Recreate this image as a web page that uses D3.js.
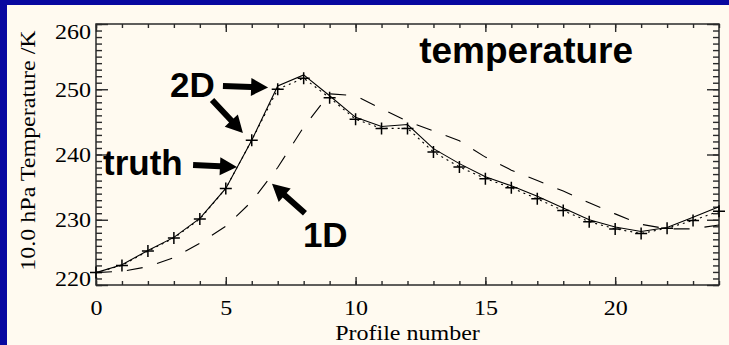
<!DOCTYPE html>
<html>
<head>
<meta charset="utf-8">
<script src="https://cdn.jsdelivr.net/npm/d3@7"></script>
<style>
  body { margin: 0; background: #0808a0; }
  svg { display: block; }
</style>
</head>
<body>
<svg id="chart" width="729" height="345"></svg>
<script>
// profile numbers along the track
const profile = [0, 1, 2, 3, 4, 5, 6, 7, 8, 9, 10, 11, 12, 13, 14, 15, 16, 17, 18, 19, 20, 21, 22, 23, 24];
// 10 hPa temperature (K)
const truth = [221.9, 223.1, 225.3, 227.3, 230.2, 234.8, 242.2, 250.5, 252.2, 249.0, 245.7, 244.3, 244.6,
    240.9, 238.6, 236.6, 235.2, 233.6, 231.8, 230.0, 228.9, 228.2, 228.8, 230.4, 232.0];
const retr2D = [221.9, 223.0, 225.2, 227.2, 230.1, 234.8, 242.2, 250.0, 251.7, 248.7, 245.4, 244.0, 244.0,
    240.4, 238.1, 236.3, 234.9, 233.2, 231.4, 229.7, 228.6, 227.9, 228.7, 229.9, 231.3];
const retr1D = [221.9, 222.1, 222.8, 224.2, 226.4, 229.0, 232.8, 238.0, 244.2, 249.3, 249.0, 247.0, 245.1,
    243.6, 242.1, 239.6, 237.6, 236.0, 234.4, 232.6, 230.9, 229.3, 228.6, 228.6, 229.2];

const xTicks = [0, 5, 10, 15, 20];
const yTicks = [220, 230, 240, 250, 260];

// annotations: label text and arrows, in data units
const labels = [
    { text: "temperature", x: 12.45, y: 254.0, size: 37 },
    { text: "2D", x: 2.85, y: 248.8, size: 35 },
    { text: "truth", x: 0.27, y: 236.86, size: 35 },
    { text: "1D", x: 7.97, y: 225.8, size: 35 }
];
const arrows = [
    { x1: 4.89, y1: 250.5, x2: 6.63, y2: 250.27 },
    { x1: 4.47, y1: 248.35, x2: 5.66, y2: 243.3 },
    { x1: 3.74, y1: 238.4, x2: 5.43, y2: 238.1 },
    { x1: 8.05, y1: 231.0, x2: 6.78, y2: 235.5 }
];

const svg = d3.select("#chart");
const W = 729, H = 345;
const m = { left: 96, right: 719, top: 24, bottom: 285 };

svg.append("rect").attr("width", W).attr("height", H).attr("fill", "#0808a0");
svg.append("rect").attr("x", 7).attr("y", 5).attr("width", W - 7).attr("height", H - 5).attr("fill", "#fffaf0");

const x = d3.scaleLinear().domain([0, 24]).range([m.left, m.right]);
const y = d3.scaleLinear().domain([220, 260]).range([m.bottom, m.top]);

const axisColor = "#2a2a2a";
const serif = "'Liberation Serif', 'Times New Roman', serif";

// minor + major ticks on all four sides (pointing inward)
function drawAxis(axis, tx, ty) {
    const g = svg.append("g").attr("transform", `translate(${tx},${ty})`).call(axis);
    g.select(".domain").remove();
    g.selectAll(".tick line").attr("stroke", axisColor).attr("stroke-width", 1.4);
    return g;
}
const minorX = d3.range(0, 25, 1), minorY = d3.range(220, 261, 1);
drawAxis(d3.axisBottom(x).tickValues(minorX).tickSize(-4).tickFormat(""), 0, m.bottom);
drawAxis(d3.axisTop(x).tickValues(minorX).tickSize(-4).tickFormat(""), 0, m.top);
drawAxis(d3.axisLeft(y).tickValues(minorY).tickSize(-6).tickFormat(""), m.left, 0);
drawAxis(d3.axisRight(y).tickValues(minorY).tickSize(-6).tickFormat(""), m.right, 0);
drawAxis(d3.axisTop(x).tickValues(xTicks).tickSize(-8).tickFormat(""), 0, m.top);
drawAxis(d3.axisRight(y).tickValues(yTicks).tickSize(-12).tickFormat(""), m.right, 0);

const gx = drawAxis(d3.axisBottom(x).tickValues(xTicks).tickSize(-8), 0, m.bottom);
gx.selectAll(".tick text")
    .attr("y", null).attr("dy", null)
    .attr("transform", "translate(0,30) scale(1.2,1)")
    .attr("fill", "#000")
    .style("font-family", serif).style("font-size", "20px");

const gy = drawAxis(d3.axisLeft(y).tickValues(yTicks).tickSize(-12), m.left, 0);
gy.selectAll(".tick text")
    .attr("x", null).attr("dy", null)
    .attr("text-anchor", "end")
    .attr("transform", d => {
        const off = d === 220 ? 0 : d === 260 ? 14 : 7;
        return `translate(-5,${off}) scale(1.2,1)`;
    })
    .attr("fill", "#000")
    .style("font-family", serif).style("font-size", "20px");

// frame
svg.append("rect")
    .attr("x", m.left).attr("y", m.top)
    .attr("width", m.right - m.left).attr("height", m.bottom - m.top)
    .attr("fill", "none").attr("stroke", axisColor).attr("stroke-width", 1.5);

// axis titles
svg.append("text")
    .attr("transform", `translate(${(m.left + m.right) / 2},340) scale(1.2,1)`)
    .attr("text-anchor", "middle")
    .style("font-family", serif).style("font-size", "20px")
    .text("Profile number");
svg.append("text")
    .attr("transform", `translate(35,${(m.top + m.bottom) / 2 - 4}) rotate(-90) scale(1.2,1)`)
    .attr("text-anchor", "middle")
    .style("font-family", serif).style("font-size", "20px")
    .text("10.0 hPa Temperature /K");

// lines
const line = vals => d3.line().x((d, i) => x(profile[i])).y(d => y(d))(vals);

const plot = svg.append("g");
plot.append("path").attr("d", line(retr1D))
    .attr("fill", "none").attr("stroke", "#000").attr("stroke-width", 1.1)
    .attr("stroke-dasharray", "16,15");
plot.append("path").attr("d", line(retr2D))
    .attr("fill", "none").attr("stroke", "#000").attr("stroke-width", 1.1)
    .attr("stroke-dasharray", "2,4");
plot.append("path").attr("d", line(truth))
    .attr("fill", "none").attr("stroke", "#000").attr("stroke-width", 1.1);

// + markers on the 2D retrieval
plot.selectAll(".plus")
    .data(retr2D)
    .enter()
    .append("path")
    .attr("class", "plus")
    .attr("d", (d, i) => {
        const px = x(profile[i]), py = y(d);
        return `M${px - 6},${py}H${px + 6}M${px},${py - 6}V${py + 6}`;
    })
    .attr("stroke", "#000").attr("stroke-width", 1.5);

// annotation arrows
function arrowPath(a) {
    const x1 = x(a.x1), y1 = y(a.y1), x2 = x(a.x2), y2 = y(a.y2);
    const len = Math.hypot(x2 - x1, y2 - y1);
    const ux = (x2 - x1) / len, uy = (y2 - y1) / len;
    const nx = -uy, ny = ux;
    const headLen = 17, headW = 9, shaftW = 3;
    const bx = x2 - ux * headLen, by = y2 - uy * headLen;
    const pts = [
        [x1 + nx * shaftW, y1 + ny * shaftW],
        [bx + nx * shaftW, by + ny * shaftW],
        [bx + nx * headW, by + ny * headW],
        [x2, y2],
        [bx - nx * headW, by - ny * headW],
        [bx - nx * shaftW, by - ny * shaftW],
        [x1 - nx * shaftW, y1 - ny * shaftW]
    ];
    return "M" + pts.map(p => p.join(",")).join("L") + "Z";
}
svg.append("g").selectAll("path")
    .data(arrows)
    .enter()
    .append("path")
    .attr("d", arrowPath)
    .attr("fill", "#000");

svg.append("g").selectAll("text")
    .data(labels)
    .enter()
    .append("text")
    .attr("x", d => x(d.x))
    .attr("y", d => y(d.y))
    .style("font-family", "'Liberation Sans', Arial, sans-serif")
    .style("font-weight", "bold")
    .style("font-size", d => d.size + "px")
    .text(d => d.text);
</script>
</body>
</html>
